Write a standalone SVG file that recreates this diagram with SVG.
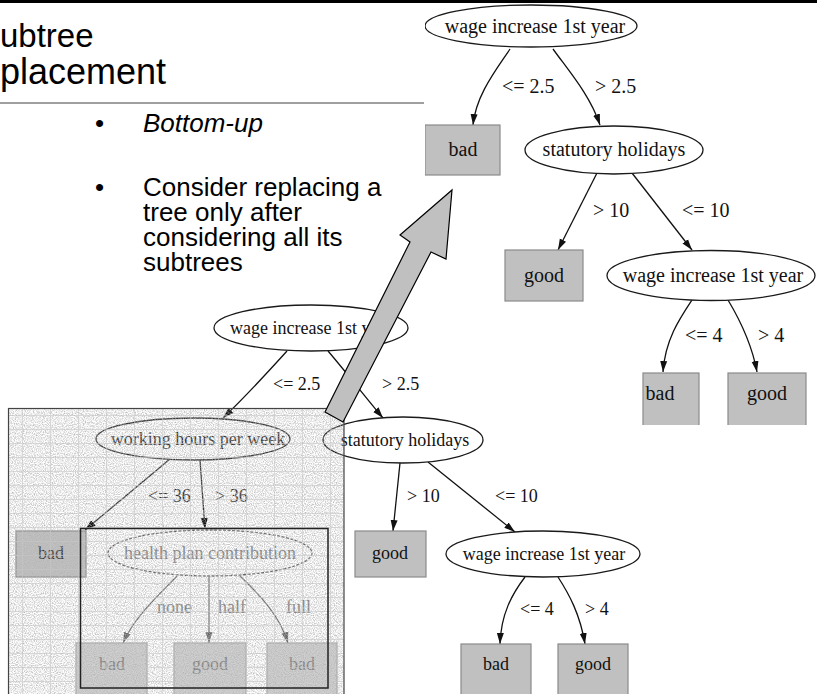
<svg xmlns="http://www.w3.org/2000/svg" width="817" height="694" viewBox="0 0 817 694">
<defs>
<style>
  .title{font-family:"Liberation Sans",Arial,sans-serif;font-size:35px;fill:#000}
  .bul{font-family:"Liberation Sans",Arial,sans-serif;font-size:26px;fill:#000}
  .it{font-style:italic}
  .n20{font-family:"Liberation Serif","Times New Roman",serif;font-size:20px;fill:#111;text-anchor:middle}
  .l20{font-family:"Liberation Serif","Times New Roman",serif;font-size:20px;fill:#111}
  .n18{font-family:"Liberation Serif","Times New Roman",serif;font-size:18px;fill:#111;text-anchor:middle}
  .l18{font-family:"Liberation Serif","Times New Roman",serif;font-size:18px;fill:#111}
  .ell{fill:#fff;stroke:#1a1a1a;stroke-width:1.3}
  .leaf{fill:#c0c0c0;stroke:#8a8a8a;stroke-width:1.2}
  .edge{fill:none;stroke:#111;stroke-width:1.3;marker-end:url(#ah)}
  .dim .ell{stroke:#333}
  .dim text{fill:#333}
  .faded .ell{stroke:#666;stroke-dasharray:3 1.5}
  .faded text{fill:#808080}
  .faded .leaf{fill:#cfcfcf;stroke:#aaa}
  .fedge{fill:none;stroke:#666;stroke-width:1.2;marker-end:url(#ahf)}
</style>
<marker id="ah" markerUnits="userSpaceOnUse" markerWidth="11" markerHeight="8" refX="11" refY="4" orient="auto">
  <path d="M0,0.5 L11,4 L0,7.5 z" fill="#111"/>
</marker>
<marker id="ahf" markerUnits="userSpaceOnUse" markerWidth="11" markerHeight="8" refX="11" refY="4" orient="auto">
  <path d="M0,0.5 L11,4 L0,7.5 z" fill="#666"/>
</marker>
<clipPath id="upperClip"><rect x="425" y="3" width="392" height="422"/></clipPath>
<pattern id="grid" width="28" height="14" patternUnits="userSpaceOnUse" x="8" y="408">
  <path d="M0,7.5 H28 M14.5,0 V14" stroke="#c6c6c6" stroke-width="1" fill="none"/>
</pattern>
<filter id="grain" filterUnits="userSpaceOnUse" x="8" y="408" width="336" height="286">
  <feTurbulence type="fractalNoise" baseFrequency="0.9" numOctaves="1" seed="7"/>
  <feColorMatrix type="matrix" values="0 0 0 0 0.45  0 0 0 0 0.45  0 0 0 0 0.45  2.2 0 0 0 -0.85"/>
</filter>
</defs>

<rect x="0" y="0" width="817" height="694" fill="#fff"/>

<!-- slide title and bullets -->
<g id="title">
  <text class="title" x="0" y="47" style="font-size:33px">ubtree</text>
  <text class="title" x="0" y="84" style="font-size:36px">placement</text>
  <line x1="0" y1="103" x2="424" y2="103" stroke="#808080" stroke-width="1.5"/>
</g>
<g id="bullets">
  <text class="bul" x="95" y="132">•</text>
  <text class="bul it" x="143" y="132">Bottom-up</text>
  <text class="bul" x="95" y="196">•</text>
  <text class="bul" x="143" y="196">Consider replacing a</text>
  <text class="bul" x="143" y="221">tree only after</text>
  <text class="bul" x="143" y="246">considering all its</text>
  <text class="bul" x="143" y="271">subtrees</text>
</g>

<!-- original tree (lower) -->
<g id="lower-connectors">
  <path class="edge" d="M287,351 C268,372 244,398 223,418"/>
  <path class="edge" d="M328,351 C346,372 366,398 383,418"/>
  <path class="edge" d="M400,463 L393,531"/>
  <path class="edge" d="M428,462 L515,532"/>
  <path class="edge" d="M525,577 C512,594 501,614 500,644"/>
  <path class="edge" d="M558,577 C569,594 580,614 585,644"/>
  <g class="dim">
    <path class="edge" d="M170,459 L85,530" style="stroke:#333"/>
    <path class="edge" d="M200,460 L205,529" style="stroke:#333"/>
  </g>
  <path class="fedge" d="M177,576 C160,594 135,616 123,643"/>
  <path class="fedge" d="M209,577 L209,643"/>
  <path class="fedge" d="M240,576 C259,594 280,616 288,643"/>
</g>
<g id="lower-labels">
  <text class="l18" x="273" y="390">&lt;= 2.5</text>
  <text class="l18" x="382" y="390">&gt; 2.5</text>
  <text class="l18" x="407" y="502">&gt; 10</text>
  <text class="l18" x="495" y="502">&lt;= 10</text>
  <text class="l18" x="520" y="615">&lt;= 4</text>
  <text class="l18" x="585" y="615">&gt; 4</text>
  <g class="dim">
    <text class="l18" x="148" y="502">&lt;= 36</text>
    <text class="l18" x="215" y="502">&gt; 36</text>
  </g>
  <g class="faded">
    <text class="l18" x="157" y="613">none</text>
    <text class="l18" x="218" y="613">half</text>
    <text class="l18" x="286" y="613">full</text>
  </g>
</g>
<g id="l-root"><ellipse class="ell" cx="311" cy="328" rx="97" ry="23"/><text class="l18" x="230" y="334">wage increase 1st y</text></g>
<g id="l-statutory"><ellipse class="ell" cx="403" cy="440" rx="80" ry="23"/><text class="n18" x="405" y="446">statutory holidays</text></g>
<g id="l-good1"><rect class="leaf" x="355" y="531" width="71" height="46"/><text class="n18" x="390" y="559">good</text></g>
<g id="l-wage"><ellipse class="ell" cx="543" cy="554" rx="97" ry="23"/><text class="n18" x="544" y="560">wage increase 1st year</text></g>
<g id="l-bad3"><rect class="leaf" x="461" y="644" width="70" height="52"/><text class="n18" x="496" y="670">bad</text></g>
<g id="l-good3"><rect class="leaf" x="558" y="644" width="70" height="52"/><text class="n18" x="593" y="670">good</text></g>

<g class="dim">
  <g id="l-hours"><ellipse class="ell" cx="193" cy="439" rx="97" ry="21"/><text class="n18" x="198" y="445">working hours per week</text></g>
  <g id="l-bad1"><rect class="leaf" x="16" y="531" width="70" height="46"/><text class="n18" x="51" y="559">bad</text></g>
</g>
<g class="faded">
  <g id="l-health"><ellipse class="ell" cx="210" cy="553" rx="102" ry="23"/><text class="n18" x="210" y="559">health plan contribution</text></g>
  <g id="l-bad2"><rect class="leaf" x="76" y="643" width="71" height="52"/><text class="n18" x="112" y="670">bad</text></g>
  <g id="l-good2"><rect class="leaf" x="174" y="643" width="72" height="52"/><text class="n18" x="210" y="670">good</text></g>
  <g id="l-bad4"><rect class="leaf" x="267" y="643" width="70" height="52"/><text class="n18" x="302" y="670">bad</text></g>
</g>

<!-- grainy shading over the subtree under consideration -->
<g id="shade">
  <rect x="8" y="408" width="336" height="286" filter="url(#grain)"/>
  <rect x="8" y="408" width="336" height="286" fill="url(#grid)" opacity="0.6"/>
  <rect x="8.5" y="408.5" width="335.5" height="290" fill="none" stroke="#444" stroke-width="1.2"/>
  <rect x="80.5" y="528.5" width="247.5" height="159.5" fill="none" stroke="#222" stroke-width="1.5"/>
</g>

<!-- pruned tree (upper right) -->
<g clip-path="url(#upperClip)">
  <g id="upper-connectors">
    <path class="edge" d="M510,49 C496,70 476,95 473,125"/>
    <path class="edge" d="M553,49 C568,70 590,95 600,125"/>
    <path class="edge" d="M597,173 L558,250"/>
    <path class="edge" d="M632,173 L692,250"/>
    <path class="edge" d="M692,300 C680,318 665,340 663,372"/>
    <path class="edge" d="M728,300 C740,320 752,345 757,372"/>
  </g>
  <g id="upper-labels">
    <text class="l20" x="502" y="93">&lt;= 2.5</text>
    <text class="l20" x="595" y="93">&gt; 2.5</text>
    <text class="l20" x="593" y="217">&gt; 10</text>
    <text class="l20" x="682" y="217">&lt;= 10</text>
    <text class="l20" x="685" y="342">&lt;= 4</text>
    <text class="l20" x="758" y="342">&gt; 4</text>
  </g>
  <g id="u-root"><ellipse class="ell" cx="531" cy="26" rx="106" ry="21"/><text class="n20" x="535" y="33">wage increase 1st year</text></g>
  <g id="u-bad1"><rect class="leaf" x="425" y="125" width="75" height="50"/><text class="n20" x="463" y="156">bad</text></g>
  <g id="u-statutory"><ellipse class="ell" cx="614" cy="150" rx="89" ry="24"/><text class="n20" x="614" y="156">statutory holidays</text></g>
  <g id="u-good1"><rect class="leaf" x="505" y="250" width="78" height="51"/><text class="n20" x="544" y="282">good</text></g>
  <g id="u-wage"><ellipse class="ell" cx="711" cy="275.5" rx="104" ry="25"/><text class="n20" x="713" y="282">wage increase 1st year</text></g>
  <g id="u-bad2"><rect class="leaf" x="643" y="373" width="56" height="60"/><text class="n20" x="660" y="400">bad</text></g>
  <g id="u-good2"><rect class="leaf" x="728" y="373" width="78" height="60"/><text class="n20" x="767" y="400">good</text></g>
</g>

<!-- replacement arrow -->
<polygon id="replace-arrow" points="325,412 410,242 400,235 452,190 446,259 431,252 343,422" fill="#c0c0c0" stroke="#000" stroke-width="1.2" stroke-linejoin="miter"/>

<rect x="0" y="0" width="817" height="3" fill="#000"/>
</svg>
